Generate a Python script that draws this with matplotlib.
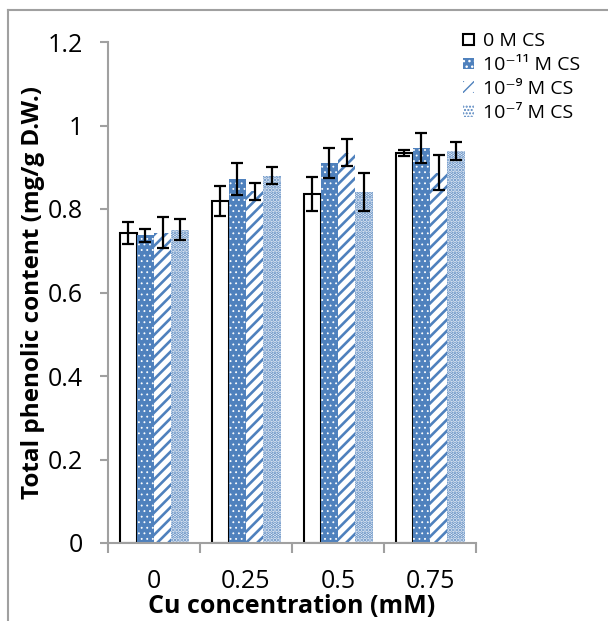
import numpy as np
import matplotlib
matplotlib.use('Agg')
import matplotlib.pyplot as plt
from matplotlib.lines import Line2D

plt.rcParams['font.family'] = ['Open Sans', 'DejaVu Sans']

# data
categories = ['0', '0.25', '0.5', '0.75']
series = ['0 M CS', '10⁻¹¹ M CS', '10⁻⁹ M CS', '10⁻⁷ M CS']
values = [
    [0.742, 0.819, 0.836, 0.935],
    [0.737, 0.871, 0.910, 0.946],
    [0.743, 0.842, 0.935, 0.887],
    [0.750, 0.880, 0.841, 0.939],
]
errors = [
    [0.027, 0.036, 0.041, 0.007],
    [0.015, 0.038, 0.036, 0.036],
    [0.037, 0.021, 0.033, 0.042],
    [0.025, 0.020, 0.046, 0.021],
]

blue = '#4F81BD'
face = ['white', blue, 'white', 'white']
edge = ['black', 'white', blue, blue]
hatch = [None, '...', '///', '.....']
hatch_lw = [1.0, 0.6, 1.9, 1.8]
lw = [1.5, 0, 0, 0]

fig = plt.figure(figsize=(6.08, 6.21), dpi=100)
ax = fig.add_axes([108/608, 1-543/621, (476-108)/608, (543-42)/621])

x = np.arange(len(categories))
w = 0.1875
for i in range(len(series)):
    pos = x + (i - 1.5) * w
    with plt.rc_context({'hatch.linewidth': hatch_lw[i]}):
        ax.bar(pos, values[i], width=w, color=face[i], edgecolor=edge[i],
               hatch=hatch[i], linewidth=lw[i], label=series[i], zorder=2)
    ax.errorbar(pos, values[i], yerr=errors[i], fmt='none', ecolor='black',
                elinewidth=1.6, capsize=4.5, capthick=1.6, zorder=3)

ax.set_xlim(-0.5, 3.5)
ax.set_ylim(0, 1.2)
ax.set_yticks([0, 0.2, 0.4, 0.6, 0.8, 1.0, 1.2])
ax.set_yticklabels(['0', '0.2', '0.4', '0.6', '0.8', '1', '1.2'])
ax.set_xticks([-0.5, 0.5, 1.5, 2.5, 3.5])
ax.set_xticklabels([])
ax.set_xticks(x, minor=True)
ax.set_xticklabels(categories, minor=True)
ax.tick_params(axis='x', which='minor', length=0, pad=18.7, labelsize=18)
ax.tick_params(axis='x', which='major', length=7, width=1.5, color='#A0A0A0', direction='out')
ax.tick_params(axis='y', length=6, width=1.5, color='#A0A0A0', labelsize=18, pad=12)

for s in ['top', 'right']:
    ax.spines[s].set_visible(False)
for s in ['left', 'bottom']:
    ax.spines[s].set_color('#A0A0A0')
    ax.spines[s].set_linewidth(1.5)

ax.set_xlabel('Cu concentration (mM)', fontsize=18, fontweight='bold', labelpad=0)
ax.set_ylabel('Total phenolic content (mg/g D.W.)', fontsize=17.5, fontweight='bold')
ax.yaxis.set_label_coords((45-108)/368, 0.5)

fig.legend(loc='upper left', bbox_to_anchor=(463/608, 1-32.5/621), frameon=False,
           fontsize=14, handlelength=0.55, handleheight=0.55, handletextpad=0.46,
           labelspacing=0.3, borderaxespad=0, borderpad=0)

# outer frame
fig.add_artist(Line2D([8/608, 1], [1-10/621, 1-10/621], color='#A0A0A0', lw=1.5))
fig.add_artist(Line2D([8/608, 8/608], [0, 1-10/621], color='#A0A0A0', lw=1.5))

plt.savefig('out.png', dpi=100)
